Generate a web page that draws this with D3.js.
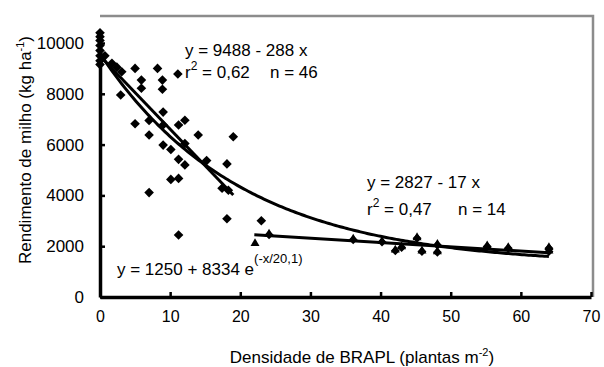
<!DOCTYPE html>
<html><head><meta charset="utf-8">
<script src="https://cdn.jsdelivr.net/npm/d3@7"></script>
<style>body{margin:0;background:#fff}svg{display:block}text{font-family:"Liberation Sans",Arial,sans-serif;fill:#000}</style>
</head><body><svg id="c" width="604" height="367"></svg>
<script>
// Series 1 (diamonds): density (plants m-2) and yield (kg/ha)
const s1x = [0,0,0,0,0,0,0,0,0.7,1.7,2.4,3.1,5.0,8.2,5.9,8.9,11.1,5.9,8.9,2.95,9.0,5.0,7.0,12.1,11.2,7.0,9.0,14.0,19.0,9.0,10.1,12.1,11.2,12.1,15.2,18.1,10.1,11.2,17.4,18.3,7.0,18.1,11.2,23.0];
const s1y = [10400,10250,10100,9900,9700,9500,9300,9150,9500,9200,9050,8870,9000,9000,8540,8540,8780,8220,8180,7950,7280,6820,6950,6960,6770,6380,6770,6380,6310,5980,5810,6040,5420,5200,5370,5240,4630,4670,4280,4200,4110,3080,2440,3000];
// Series 2 (triangles, n = 14)
const s2x = [22.1,24.1,36.1,40.2,42.1,43.0,45.2,45.9,48.1,48.1,55.2,58.2,64.0,64.0];
const s2y = [2140,2510,2310,2220,1880,2010,2370,1850,2110,1820,2050,1980,1980,1850];
// Fitted models (from the equations printed on the chart)
const lin1 = {a:9488, b:-288, from:0, to:19};
const lin2 = {a:2827, b:-17, from:22, to:64};
const expo = {a:1250, b:8334, c:20.1, from:0, to:64};
const xTicks = [0,10,20,30,40,50,60,70];
const yTicks = [0,2000,4000,6000,8000,10000];

const svg = d3.select("#c");
const x = d3.scaleLinear().domain([0,70]).range([100,591]);
const y = d3.scaleLinear().domain([0,10000]).range([297,43]);

// frame (gray top/right)
svg.append("path").attr("d",`M100,16H593V297`).attr("fill","none").attr("stroke","#8c8c8c").attr("stroke-width",2.5);

// axes
const xa = svg.append("g").attr("transform","translate(0,297)")
  .call(d3.axisBottom(x).tickValues(xTicks).tickSizeInner(-5).tickSizeOuter(0).tickPadding(14).tickFormat(d3.format("d")));
const ya = svg.append("g").attr("transform","translate(100,0)")
  .call(d3.axisLeft(y).tickValues(yTicks).tickSizeInner(-5).tickSizeOuter(0).tickPadding(16).tickFormat(d3.format("d")));
[xa,ya].forEach(g=>{
  g.attr("font-family","Liberation Sans, Arial, sans-serif");
  g.select(".domain").attr("stroke","#000").attr("stroke-width",3.5);
  g.selectAll(".tick line").attr("stroke","#000").attr("stroke-width",2.5);
});
xa.attr("font-size",16); xa.selectAll(".tick text").attr("font-size",16);
ya.attr("font-size",17); ya.selectAll(".tick text").attr("font-size",17);

// fitted lines
const line = d3.line().x(d=>x(d[0])).y(d=>y(d[1]));
const n = 200;
const expPts = d3.range(n+1).map(i=>{const xv=expo.from+(expo.to-expo.from)*i/n;return [xv, expo.a+expo.b*Math.exp(-xv/expo.c)];});
svg.append("path").attr("d",line(expPts)).attr("fill","none").attr("stroke","#000").attr("stroke-width",3);
[lin1,lin2].forEach(L=>{
  svg.append("path").attr("d",line([[L.from,L.a+L.b*L.from],[L.to,L.a+L.b*L.to]]))
    .attr("fill","none").attr("stroke","#000").attr("stroke-width",3);
});

// markers
const diamond = (cx,cy,r)=>`M${cx},${cy-r}L${cx+r},${cy}L${cx},${cy+r}L${cx-r},${cy}Z`;
const tri = (cx,cy,r)=>`M${cx},${cy-r}L${cx+r},${cy+r*0.75}L${cx-r},${cy+r*0.75}Z`;
const d1 = s1x.map((v,i)=>[v,s1y[i]]);
const d2 = s2x.map((v,i)=>[v,s2y[i]]);
svg.append("g").selectAll("path").data(d1).join("path").attr("d",d=>diamond(x(d[0]),y(d[1]),4.8)).attr("fill","#000");
svg.append("g").selectAll("path").data(d2.slice(1)).join("path").attr("d",d=>diamond(x(d[0]),y(d[1])+1.5,4.5)).attr("fill","#000");
svg.append("g").selectAll("path").data(d2).join("path").attr("d",d=>tri(x(d[0]),y(d[1]),4.5)).attr("fill","#000");

// axis titles
const yt = svg.append("text").attr("transform","translate(31,150) rotate(-90)").attr("text-anchor","middle").attr("font-size",17);
yt.append("tspan").text("Rendimento de milho (kg ha");
yt.append("tspan").attr("font-size",11).attr("dy",-7).text("-1");
yt.append("tspan").attr("dy",7).text(")");
const xt = svg.append("text").attr("x",362).attr("y",363).attr("text-anchor","middle").attr("font-size",17);
xt.append("tspan").text("Densidade de BRAPL (plantas m");
xt.append("tspan").attr("font-size",11).attr("dy",-7).text("-2");
xt.append("tspan").attr("dy",7).text(")");

// annotations
function eq(xp,yp,txt){return svg.append("text").attr("x",xp).attr("y",yp).attr("font-size",17).text(txt);}
function r2(xp,yp,val,nx,nv){
  const t = svg.append("text").attr("x",xp).attr("y",yp).attr("font-size",17);
  t.append("tspan").text("r");
  t.append("tspan").attr("font-size",12).attr("dy",-8).text("2");
  t.append("tspan").attr("dy",8).text(" = "+val);
  svg.append("text").attr("x",nx).attr("y",yp).attr("font-size",17).text("n = "+nv);
}
eq(185,56,"y = 9488 - 288 x");
r2(185,78,"0,62",270,46);
eq(367,188,"y = 2827 - 17 x");
r2(367,215,"0,47",458,14);
const te = svg.append("text").attr("x",117).attr("y",275).attr("font-size",17);
te.append("tspan").text("y = 1250 + 8334 e");
te.append("tspan").attr("font-size",13).attr("dy",-12).text("(-x/20,1)");
</script></body></html>
